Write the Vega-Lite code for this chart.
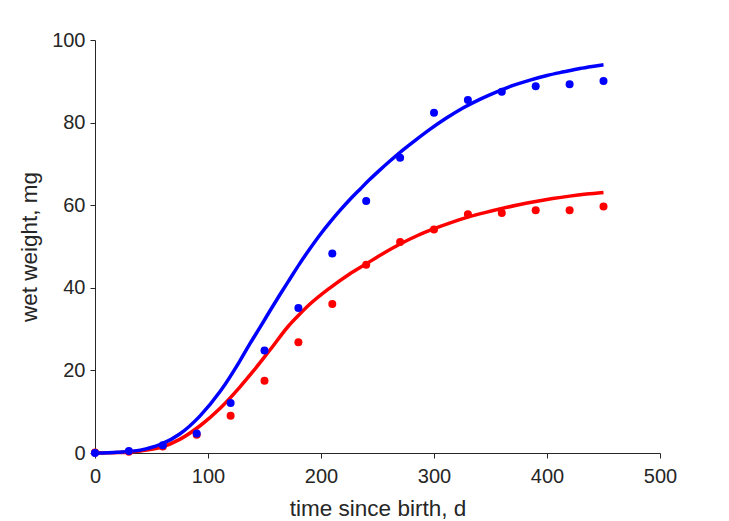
{
  "$schema": "https://vega.github.io/schema/vega-lite/v6.json",
  "width": 565,
  "height": 413,
  "autosize": {"type": "none"},
  "padding": {"left": 95, "top": 40, "right": 69, "bottom": 68},
  "background": "white",
  "config": {
    "view": {"stroke": null},
    "font": "Liberation Sans",
    "axis": {
      "grid": false,
      "domainColor": "#262626",
      "tickColor": "#262626",
      "labelColor": "#262626",
      "titleColor": "#262626",
      "labelFont": "Liberation Sans",
      "titleFont": "Liberation Sans",
      "labelFontSize": 20,
      "titleFontSize": 22.5,
      "titleFontWeight": "normal",
      "tickSize": 5,
      "domainWidth": 1,
      "tickWidth": 1,
      "labelFlush": false,
      "labelOverlap": false
    }
  },
  "datasets": {
    "obs": [
      {"t": 0, "w": 0.1, "group": "red"},
      {"t": 30, "w": 0.3, "group": "red"},
      {"t": 60, "w": 1.6, "group": "red"},
      {"t": 90, "w": 4.4, "group": "red"},
      {"t": 120, "w": 9.0, "group": "red"},
      {"t": 150, "w": 17.5, "group": "red"},
      {"t": 180, "w": 26.8, "group": "red"},
      {"t": 210, "w": 36.1, "group": "red"},
      {"t": 240, "w": 45.6, "group": "red"},
      {"t": 270, "w": 51.1, "group": "red"},
      {"t": 300, "w": 54.1, "group": "red"},
      {"t": 330, "w": 57.8, "group": "red"},
      {"t": 360, "w": 58.1, "group": "red"},
      {"t": 390, "w": 58.8, "group": "red"},
      {"t": 420, "w": 58.8, "group": "red"},
      {"t": 450, "w": 59.7, "group": "red"},
      {"t": 0, "w": 0.0, "group": "blue"},
      {"t": 30, "w": 0.5, "group": "blue"},
      {"t": 60, "w": 1.9, "group": "blue"},
      {"t": 90, "w": 4.7, "group": "blue"},
      {"t": 120, "w": 12.1, "group": "blue"},
      {"t": 150, "w": 24.8, "group": "blue"},
      {"t": 180, "w": 35.1, "group": "blue"},
      {"t": 210, "w": 48.3, "group": "blue"},
      {"t": 240, "w": 61.0, "group": "blue"},
      {"t": 270, "w": 71.5, "group": "blue"},
      {"t": 300, "w": 82.4, "group": "blue"},
      {"t": 330, "w": 85.5, "group": "blue"},
      {"t": 360, "w": 87.5, "group": "blue"},
      {"t": 390, "w": 88.8, "group": "blue"},
      {"t": 420, "w": 89.3, "group": "blue"},
      {"t": 450, "w": 90.1, "group": "blue"}
    ],
    "fitRed": [
      {"t": 0, "w": 0, "group": "red"},
      {"t": 20, "w": 0.1, "group": "red"},
      {"t": 40, "w": 0.5, "group": "red"},
      {"t": 57.5, "w": 1.3, "group": "red"},
      {"t": 75, "w": 3.3, "group": "red"},
      {"t": 93, "w": 6.6, "group": "red"},
      {"t": 111, "w": 10.9, "group": "red"},
      {"t": 128, "w": 15.9, "group": "red"},
      {"t": 140, "w": 19.8, "group": "red"},
      {"t": 155, "w": 25.0, "group": "red"},
      {"t": 172, "w": 31.0, "group": "red"},
      {"t": 180, "w": 33.3, "group": "red"},
      {"t": 190, "w": 36.0, "group": "red"},
      {"t": 208, "w": 40.0, "group": "red"},
      {"t": 225, "w": 43.3, "group": "red"},
      {"t": 240, "w": 45.8, "group": "red"},
      {"t": 255, "w": 48.3, "group": "red"},
      {"t": 270, "w": 50.6, "group": "red"},
      {"t": 285, "w": 52.6, "group": "red"},
      {"t": 300, "w": 54.3, "group": "red"},
      {"t": 315, "w": 55.8, "group": "red"},
      {"t": 330, "w": 57.1, "group": "red"},
      {"t": 345, "w": 58.2, "group": "red"},
      {"t": 360, "w": 59.2, "group": "red"},
      {"t": 375, "w": 60.1, "group": "red"},
      {"t": 390, "w": 60.9, "group": "red"},
      {"t": 405, "w": 61.6, "group": "red"},
      {"t": 420, "w": 62.2, "group": "red"},
      {"t": 435, "w": 62.7, "group": "red"},
      {"t": 450, "w": 63.1, "group": "red"}
    ],
    "fitBlue": [
      {"t": 0, "w": 0, "group": "blue"},
      {"t": 20, "w": 0.2, "group": "blue"},
      {"t": 40, "w": 0.7, "group": "blue"},
      {"t": 57.5, "w": 2.0, "group": "blue"},
      {"t": 75, "w": 4.6, "group": "blue"},
      {"t": 93, "w": 9.0, "group": "blue"},
      {"t": 111, "w": 15.0, "group": "blue"},
      {"t": 128, "w": 22.2, "group": "blue"},
      {"t": 137, "w": 26.4, "group": "blue"},
      {"t": 146, "w": 30.4, "group": "blue"},
      {"t": 155, "w": 34.5, "group": "blue"},
      {"t": 164, "w": 38.5, "group": "blue"},
      {"t": 172.6, "w": 42.2, "group": "blue"},
      {"t": 181, "w": 45.8, "group": "blue"},
      {"t": 190, "w": 49.4, "group": "blue"},
      {"t": 199, "w": 52.8, "group": "blue"},
      {"t": 208, "w": 55.9, "group": "blue"},
      {"t": 217, "w": 58.8, "group": "blue"},
      {"t": 226, "w": 61.5, "group": "blue"},
      {"t": 235, "w": 64.0, "group": "blue"},
      {"t": 243, "w": 66.2, "group": "blue"},
      {"t": 252, "w": 68.5, "group": "blue"},
      {"t": 261, "w": 70.7, "group": "blue"},
      {"t": 270, "w": 72.8, "group": "blue"},
      {"t": 282, "w": 75.4, "group": "blue"},
      {"t": 296, "w": 78.3, "group": "blue"},
      {"t": 311, "w": 81.1, "group": "blue"},
      {"t": 326, "w": 83.6, "group": "blue"},
      {"t": 341, "w": 85.7, "group": "blue"},
      {"t": 355, "w": 87.4, "group": "blue"},
      {"t": 370, "w": 89.0, "group": "blue"},
      {"t": 385, "w": 90.3, "group": "blue"},
      {"t": 400, "w": 91.4, "group": "blue"},
      {"t": 415, "w": 92.3, "group": "blue"},
      {"t": 429, "w": 93.1, "group": "blue"},
      {"t": 440, "w": 93.6, "group": "blue"},
      {"t": 450, "w": 94.0, "group": "blue"}
    ]
  },
  "encoding": {
    "x": {
      "field": "t",
      "type": "quantitative",
      "scale": {"domain": [0, 500], "nice": false, "zero": false},
      "axis": {
        "values": [0, 100, 200, 300, 400, 500],
        "title": "time since birth, d",
        "labelPadding": 8,
        "titlePadding": 11,
        "encode": {"ticks": {"update": {"y2": {"value": -5}}}}
      }
    },
    "y": {
      "field": "w",
      "type": "quantitative",
      "scale": {"domain": [0, 100], "nice": false, "zero": false},
      "axis": {
        "values": [0, 20, 40, 60, 80, 100],
        "title": "wet weight, mg",
        "labelPadding": 5,
        "titlePadding": 10,
        "encode": {"ticks": {"update": {"x2": {"value": 5}}}}
      }
    },
    "color": {
      "field": "group",
      "type": "nominal",
      "scale": {"domain": ["blue", "red"], "range": ["#0000ff", "#ff0000"]},
      "legend": null
    }
  },
  "layer": [
    {
      "data": {"name": "fitRed"},
      "mark": {"type": "line", "strokeWidth": 3.5, "interpolate": "monotone", "strokeCap": "butt"}
    },
    {
      "data": {"name": "fitBlue"},
      "mark": {"type": "line", "strokeWidth": 3.5, "interpolate": "monotone", "strokeCap": "butt"}
    },
    {
      "data": {"name": "obs"},
      "mark": {"type": "circle", "size": 64, "opacity": 1}
    }
  ]
}
